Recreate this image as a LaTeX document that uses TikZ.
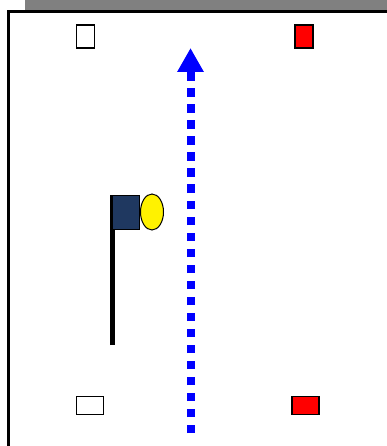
\documentclass[tikz,border=0pt]{standalone}
\usetikzlibrary{arrows.meta,shapes.geometric}
\definecolor{flagblue}{RGB}{31,56,96}
\definecolor{bargray}{RGB}{128,128,128}

\begin{document}
\begin{tikzpicture}[x=1pt,y=-1pt,
  cone/.style={draw=black,line width=1.6pt,inner sep=0pt,minimum width=18pt,minimum height=23pt},
  flat/.style={draw=black,line width=1.6pt,inner sep=0pt,minimum width=27pt,minimum height=18pt}]
\useasboundingbox (0,0) rectangle (387,446);

% field
\fill[bargray] (25,0) rectangle (387,11);
\draw[line width=3pt] (8.5,450) -- (8.5,12) -- (390,12);

% markers
\node[cone,fill=white] (tl) at (85.5,36.5) {};
\node[cone,fill=red]   (tr) at (304,36.5) {};
\node[flat,fill=white] (bl) at (90,405.5) {};
\node[flat,fill=red]   (br) at (305.5,405.5) {};

% flag
\coordinate (poletop) at (112.5,195);
\coordinate (polefoot) at (112.5,345);
\draw[line width=5pt] (polefoot) -- (poletop);
\node[draw=black,fill=flagblue,line width=1pt,inner sep=0pt,
      minimum width=27pt,minimum height=34pt,anchor=north west] (flag) at (112,194.5) {};
\node[draw=black,fill=yellow,line width=1pt,ellipse,inner sep=0pt,
      minimum width=23pt,minimum height=36pt,anchor=west] (ball) at (flag.east) {};

% run
\coordinate (start) at (190.5,433);
\coordinate (goal) at (190.5,48);
\draw[blue,line width=8pt,dash pattern=on 8.5pt off 7.5pt,
      -{Triangle[width=25pt,length=24pt]}] (start) -- (goal);

\end{tikzpicture}
\end{document}
